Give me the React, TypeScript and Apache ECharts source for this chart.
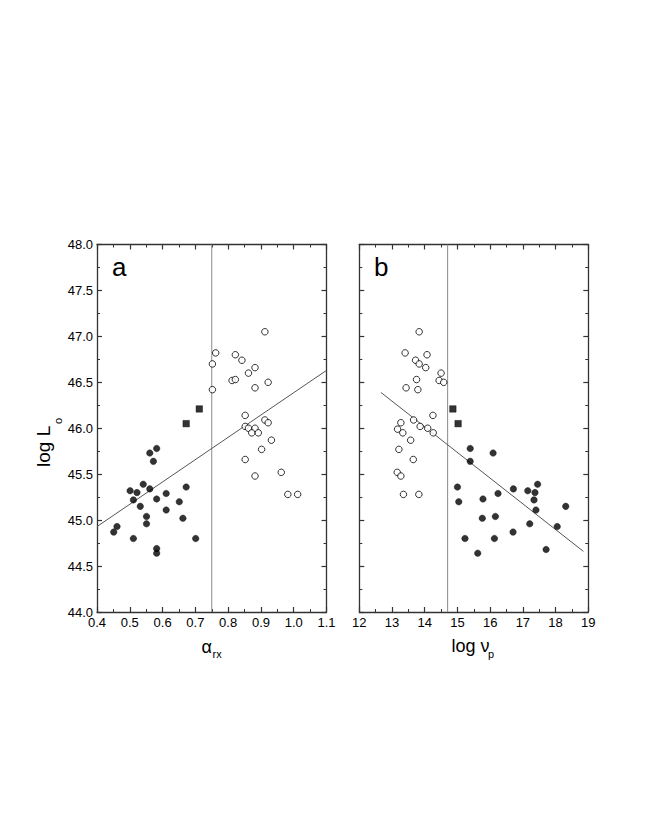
import React, { useEffect, useRef } from "react";
import * as echarts from "echarts";

// Panel a: alpha_rx vs log L_o
const aOpen: number[][] = [
  [0.912, 47.05], [0.762, 46.82], [0.822, 46.8], [0.842, 46.74], [0.752, 46.7],
  [0.882, 46.66], [0.862, 46.6], [0.812, 46.52], [0.822, 46.53], [0.922, 46.5],
  [0.882, 46.44], [0.752, 46.42], [0.852, 46.14], [0.912, 46.09], [0.922, 46.06],
  [0.852, 46.02], [0.862, 46.0], [0.882, 46.0], [0.872, 45.95], [0.892, 45.95],
  [0.932, 45.87], [0.902, 45.77], [0.852, 45.66], [0.882, 45.48], [0.962, 45.52],
  [0.982, 45.28], [1.012, 45.28],
];
const aFilled: number[][] = [
  [0.582, 45.78], [0.561, 45.73], [0.572, 45.64], [0.541, 45.39], [0.561, 45.34],
  [0.672, 45.36], [0.501, 45.32], [0.522, 45.3], [0.611, 45.29], [0.582, 45.23],
  [0.511, 45.22], [0.651, 45.2], [0.532, 45.15], [0.611, 45.11], [0.551, 45.04],
  [0.662, 45.02], [0.551, 44.96], [0.461, 44.93], [0.451, 44.87], [0.511, 44.8],
  [0.701, 44.8], [0.582, 44.69], [0.582, 44.64],
];
const aSquare: number[][] = [[0.712, 46.21], [0.672, 46.05]];
const aFit: number[][] = [[0.4, 44.93], [1.1, 46.63]];
const aDivider = 0.75;

// Panel b: log nu_p vs log L_o
const bOpen: number[][] = [
  [13.83, 47.05], [13.4, 46.82], [14.07, 46.8], [13.72, 46.74], [13.83, 46.7],
  [14.03, 46.66], [14.5, 46.6], [13.75, 46.53], [14.44, 46.52], [14.58, 46.5],
  [13.43, 46.44], [13.79, 46.42], [14.25, 46.14], [13.66, 46.09], [13.27, 46.06],
  [13.86, 46.02], [14.09, 46.0], [13.17, 45.99], [13.33, 45.95], [14.26, 45.95],
  [13.57, 45.87], [13.21, 45.77], [13.65, 45.66], [13.16, 45.52], [13.27, 45.48],
  [13.35, 45.28], [13.82, 45.28],
];
const bFilled: number[][] = [
  [15.39, 45.78], [16.09, 45.73], [15.39, 45.64], [17.45, 45.39], [15.0, 45.36],
  [16.71, 45.34], [17.15, 45.32], [17.37, 45.3], [16.24, 45.29], [15.78, 45.23],
  [17.34, 45.22], [15.04, 45.2], [18.31, 45.15], [17.4, 45.11], [16.16, 45.04],
  [15.76, 45.02], [17.21, 44.96], [18.05, 44.93], [16.7, 44.87], [15.23, 44.8],
  [16.13, 44.8], [17.71, 44.68], [15.62, 44.64],
];
const bSquare: number[][] = [[14.86, 46.21], [15.02, 46.05]];
const bFit: number[][] = [[12.66, 46.39], [18.85, 44.66]];
const bDivider = 14.7;

const yMin = 44.0;
const yMax = 48.0;

const FONT = "Liberation Sans, Arial, sans-serif";
const AX = "#333";

function xAxisDef(grid: number, min: number, max: number, interval: number, pos: "bottom" | "top", labels: boolean, dec: number) {
  return {
    type: "value",
    gridIndex: grid,
    position: pos,
    min,
    max,
    interval,
    axisLine: { show: true, onZero: false, lineStyle: { color: AX, width: 1.3 } },
    axisTick: { show: true, inside: true, length: 5, lineStyle: { color: AX, width: 1.2 } },
    minorTick: { show: true, splitNumber: 2, length: 3, lineStyle: { color: AX, width: 1 } },
    splitLine: { show: false },
    axisLabel: {
      show: labels,
      color: "#000",
      fontSize: 13,
      fontFamily: FONT,
      margin: 4,
      formatter: (v: number) => v.toFixed(dec),
    },
  };
}

function yAxisDef(grid: number, pos: "left" | "right", labels: boolean) {
  return {
    type: "value",
    gridIndex: grid,
    position: pos,
    min: yMin,
    max: yMax,
    interval: 0.5,
    axisLine: { show: true, onZero: false, lineStyle: { color: AX, width: 1.3 } },
    axisTick: { show: true, inside: true, length: 5, lineStyle: { color: AX, width: 1.2 } },
    minorTick: { show: true, splitNumber: 2, length: 3, lineStyle: { color: AX, width: 1 } },
    splitLine: { show: false },
    axisLabel: {
      show: labels,
      color: "#000",
      fontSize: 13,
      fontFamily: FONT,
      margin: 4,
      formatter: (v: number) => v.toFixed(1),
    },
  };
}

function scatter(data: number[][], xi: number, yi: number, symbol: string, filled: boolean) {
  return {
    type: "scatter",
    xAxisIndex: xi,
    yAxisIndex: yi,
    data,
    symbol,
    symbolSize: 6.5,
    itemStyle: filled
      ? { color: "#000", borderColor: "#000", borderWidth: 0.5 }
      : { color: "#fff", borderColor: "#000", borderWidth: 1 },
    z: 5,
  };
}

function line(data: number[][], xi: number, yi: number, color: string) {
  return {
    type: "line",
    xAxisIndex: xi,
    yAxisIndex: yi,
    data,
    symbol: "none",
    lineStyle: { color, width: 1 },
    z: 3,
  };
}

export default function App() {
  const ref = useRef<HTMLDivElement>(null);
  useEffect(() => {
    if (!ref.current) return;
    const chart = echarts.init(ref.current, null, { renderer: "svg" });
    chart.setOption({
      animation: false,
      backgroundColor: "#fff",
      grid: [
        { left: 97, top: 244.5, width: 229.5, height: 367.5 },
        { left: 359.3, top: 244.5, width: 229, height: 367.5 },
      ],
      xAxis: [
        xAxisDef(0, 0.4, 1.1, 0.1, "bottom", true, 1),
        xAxisDef(0, 0.4, 1.1, 0.1, "top", false, 1),
        xAxisDef(1, 12, 19, 1, "bottom", true, 0),
        xAxisDef(1, 12, 19, 1, "top", false, 0),
      ],
      yAxis: [
        yAxisDef(0, "left", true),
        yAxisDef(0, "right", false),
        yAxisDef(1, "left", false),
        yAxisDef(1, "right", false),
      ],
      series: [
        line([[aDivider, yMin], [aDivider, yMax]], 0, 0, "#8a8a8a"),
        line(aFit, 0, 0, "#555"),
        scatter(aOpen, 0, 0, "circle", false),
        scatter(aFilled, 0, 0, "circle", true),
        scatter(aSquare, 0, 0, "rect", true),
        line([[bDivider, yMin], [bDivider, yMax]], 2, 2, "#8a8a8a"),
        line(bFit, 2, 2, "#555"),
        scatter(bOpen, 2, 2, "circle", false),
        scatter(bFilled, 2, 2, "circle", true),
        scatter(bSquare, 2, 2, "rect", true),
      ],
      graphic: [
        { type: "text", left: 112, top: 254, style: { text: "a", font: `26px ${FONT}`, fill: "#000" } },
        { type: "text", left: 374, top: 254, style: { text: "b", font: `26px ${FONT}`, fill: "#000" } },
        { type: "text", x: 201.5, y: 655.5, style: { text: "α", font: `18px ${FONT}`, fill: "#000", verticalAlign: "bottom" } },
        { type: "text", x: 212.5, y: 659.5, style: { text: "rx", font: `11px ${FONT}`, fill: "#000", verticalAlign: "bottom" } },
        { type: "text", x: 451.5, y: 655, style: { text: "log ν", font: `18px ${FONT}`, fill: "#000", verticalAlign: "bottom" } },
        { type: "text", x: 488, y: 659, style: { text: "p", font: `11px ${FONT}`, fill: "#000", verticalAlign: "bottom" } },
        {
          type: "group",
          x: 53,
          y: 467,
          rotation: Math.PI / 2,
          children: [
            { type: "text", x: 0, y: 0, style: { text: "log L", font: `19px ${FONT}`, fill: "#000", verticalAlign: "bottom" } },
            { type: "text", x: 43, y: 10, style: { text: "o", font: `11px ${FONT}`, fill: "#000", verticalAlign: "bottom" } },
          ],
        },
      ],
    });
    return () => chart.dispose();
  }, []);
  return (
    <div
      ref={ref}
      style={{ position: "absolute", left: 0, top: 0, width: 654, height: 817 }}
    />
  );
}
